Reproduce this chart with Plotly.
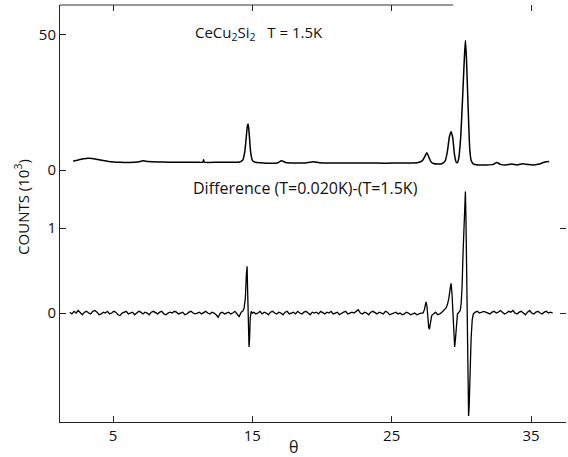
import numpy as np
import plotly.graph_objects as go

# ---------------- data (units: 10^3 counts) ----------------
# Upper panel: CeCu2Si2 at T = 1.5 K
theta_upper = [2.13, 2.5, 2.9, 3.2, 3.5, 3.9, 4.3, 4.8, 5.5, 6.2, 6.8, 7.15, 7.5, 8.2, 9.0, 10.0,
               11.0, 11.45, 11.5, 11.55, 12.5, 13.5, 14.1, 14.3, 14.45, 14.55, 14.65, 14.7, 14.78,
               14.88, 15.0, 15.2, 15.6, 16.2, 16.8, 17.1, 17.4, 18.0, 18.7, 19.4, 19.8, 20.5, 21.5,
               22.5, 23.5, 24.5, 25.5, 26.3, 26.9, 27.2, 27.4, 27.52, 27.65, 27.8, 28.0, 28.3, 28.6,
               28.85, 29.0, 29.15, 29.26, 29.38, 29.5, 29.62, 29.71, 29.8, 29.95, 30.1, 30.22, 30.29,
               30.36, 30.48, 30.6, 30.7, 30.85, 31.2, 31.8, 32.3, 32.55, 32.8, 33.2, 33.6, 34.0, 34.4,
               34.8, 35.2, 35.6, 36.0, 36.3]
counts_upper = [3.3, 3.7, 4.2, 4.4, 4.3, 3.9, 3.5, 3.1, 2.9, 2.8, 3.0, 3.4, 3.2, 3.0, 2.9, 2.9,
                2.9, 2.9, 3.8, 2.9, 2.9, 2.9, 3.0, 3.6, 6.5, 11.5, 16.5, 17.0, 13.0,
                6.5, 3.6, 2.9, 2.7, 2.5, 2.6, 3.4, 2.8, 2.6, 2.6, 3.1, 2.7, 2.6, 2.6,
                2.6, 2.6, 2.5, 2.6, 2.6, 2.8, 3.5, 5.2, 6.4, 5.0, 3.2, 2.4, 2.2, 2.3,
                3.5, 7.0, 12.5, 14.2, 12.0, 6.0, 3.0, 2.7, 4.0, 12.0, 28.0, 42.0, 48.0,
                42.0, 24.0, 8.0, 3.6, 2.3, 1.9, 1.9, 2.1, 2.8, 2.1, 1.9, 2.2, 1.9, 2.3,
                2.0, 1.9, 2.2, 3.0, 3.2]

# Lower panel: difference (T=0.020K)-(T=1.5K)
SCAN_STEP = 0.15
seg_a_start = 1.9
seg_a = [0.01, -0.01, 0.02, 0.00, 0.03, 0.01, -0.02, 0.01, 0.02, 0.00,
         -0.01, 0.02, 0.03, 0.01, -0.02, -0.01, 0.01, 0.00, 0.02, -0.01,
         0.00, 0.02, 0.01, -0.02, -0.03, 0.00, 0.01, 0.02, -0.01, 0.00,
         0.01, -0.02, 0.00, 0.02, 0.01, -0.01, 0.01, 0.00, -0.02, 0.01,
         0.02, 0.00, -0.01, 0.01, 0.02, -0.01, -0.02, 0.00, 0.01, 0.00,
         0.02, 0.01, -0.01, 0.00, 0.01, -0.02, -0.01, 0.01, 0.02, 0.00,
         -0.01, 0.00, 0.01, -0.01, 0.01, 0.02, 0.00, -0.01, 0.01, 0.00,
         -0.02, -0.05, 0.00, 0.01, -0.01, 0.00, 0.01, -0.01, 0.00, 0.02,
         -0.01, -0.04, 0.01]
peak1_theta = [14.3, 14.4, 14.5, 14.57, 14.62, 14.67, 14.72, 14.76, 14.8, 14.85, 14.92, 15.0]
peak1_diff = [0.02, 0.05, 0.18, 0.45, 0.55, 0.20, -0.25, -0.40, -0.30, -0.05, 0.02, 0.00]
seg_b_start = 15.1
seg_b = [0.01, -0.01, 0.00, 0.02, -0.01, 0.01, 0.00, -0.02, 0.01, 0.02,
         0.00, -0.01, 0.01, 0.00, -0.02, 0.01, 0.02, -0.01, 0.00, 0.01,
         -0.01, 0.02, 0.00, -0.01, 0.01, 0.02, 0.00, -0.02, 0.01, 0.00,
         0.01, -0.01, 0.02, 0.00, -0.01, 0.01, 0.00, 0.02, -0.01, 0.00,
         0.01, -0.02, 0.00, 0.01, 0.02, -0.01, 0.00, 0.01, 0.00, 0.02,
         0.04, 0.00, -0.01, 0.01, 0.00, -0.02, 0.01, 0.02, 0.00, -0.01,
         0.01, 0.00, -0.01, 0.02, 0.01, -0.02, -0.01, 0.00, 0.01, -0.01,
         0.00, -0.02, -0.01, 0.01, 0.00, -0.02, -0.01, 0.00, -0.02, -0.01,
         0.00]
peak2_theta = [27.25, 27.35, 27.42, 27.47, 27.53, 27.6, 27.66, 27.71, 27.78, 27.87, 28.0, 28.15,
               28.3, 28.45, 28.6, 28.75, 28.9, 29.0, 29.1, 29.18, 29.26, 29.33, 29.4, 29.46, 29.52,
               29.58, 29.65, 29.72, 29.78, 29.85, 29.92, 29.98, 30.05, 30.12, 30.18, 30.24, 30.29,
               30.33, 30.38, 30.43, 30.48, 30.52, 30.56, 30.62, 30.7, 30.78, 30.86]
peak2_diff = [0.00, 0.04, 0.10, 0.13, 0.08, -0.08, -0.17, -0.19, -0.10, -0.03, -0.01, 0.01,
              -0.02, -0.01, 0.01, 0.03, 0.06, 0.10, 0.17, 0.27, 0.35, 0.22, -0.05, -0.30, -0.40,
              -0.30, -0.10, -0.01, 0.00, 0.02, 0.03, 0.10, 0.30, 0.70, 1.05, 1.35, 1.43,
              1.10, 0.40, -0.40, -1.00, -1.21, -1.10, -0.70, -0.30, -0.08, -0.01]
seg_c_start = 31.0
seg_c = [0.01, 0.02, 0.00, 0.01, 0.02, 0.01, 0.00, -0.01, 0.01, 0.02,
         0.00, 0.01, 0.03, 0.01, -0.01, 0.00, 0.02, 0.01, 0.03, 0.00,
         -0.01, 0.01, 0.02, 0.00, -0.02, 0.01, 0.03, 0.00, -0.01, 0.01,
         0.02, 0.00, -0.01, 0.01, 0.02, 0.00, 0.01, 0.00]

x_ticks = [5, 15, 25, 35]
upper_ticks = [0, 50]
lower_ticks = [0, 1]


def scan(start, values):
    return list(np.round(start + SCAN_STEP * np.arange(len(values)), 3))


theta_lower = (scan(seg_a_start, seg_a) + peak1_theta + scan(seg_b_start, seg_b)
               + peak2_theta + scan(seg_c_start, seg_c))
diff_lower = seg_a + peak1_diff + seg_b + peak2_diff + seg_c

# ---------------- figure ----------------
FONT = "Open Sans"
fig = go.Figure()
fig.add_trace(go.Scatter(x=theta_upper, y=counts_upper, mode="lines", xaxis="x2", yaxis="y2",
                         line=dict(color="black", width=1.5, shape="spline", smoothing=0.5),
                         hoverinfo="skip"))
fig.add_trace(go.Scatter(x=theta_lower, y=diff_lower, mode="lines", xaxis="x", yaxis="y",
                         line=dict(color="black", width=1.3), hoverinfo="skip"))

xr = [1.195, 37.51]
split = 0.5803
axis_common = dict(showgrid=False, zeroline=False, ticks="inside", ticklen=6, tickwidth=1,
                   tickcolor="#222", linecolor="#222", linewidth=1,
                   tickfont=dict(family=FONT, size=15, color="#111"))

fig.update_layout(
    width=568, height=457,
    margin=dict(l=60, r=2, t=5, b=35),
    paper_bgcolor="white", plot_bgcolor="white",
    showlegend=False,
    xaxis=dict(range=xr, anchor="y", tickvals=x_ticks, showline=True, **axis_common),
    xaxis2=dict(range=xr, anchor="y2", matches="x", side="top", tickvals=x_ticks,
                showticklabels=False, showline=False, **axis_common),
    yaxis=dict(domain=[0, split], range=[-1.282, 1.565], anchor="x", tickvals=lower_ticks,
               showline=True, **axis_common),
    yaxis2=dict(domain=[split, 1], range=[-3.70, 61.1], anchor="x2", tickvals=upper_ticks,
                showline=True, **axis_common),
    yaxis3=dict(overlaying="y", side="right", range=[-1.282, 1.565], tickvals=lower_ticks,
                showticklabels=False, showline=False, anchor="x", **axis_common),
)
fig.add_trace(go.Scatter(x=[None], y=[None], yaxis="y3", xaxis="x", showlegend=False,
                         hoverinfo="skip"))

# top frame line (fades out towards the right in the original)
fig.add_shape(type="line", xref="paper", yref="paper", x0=0, x1=0.777, y0=1, y1=1,
              line=dict(color="#333", width=1))

fig.add_annotation(text="CeCu<sub>2</sub>Si<sub>2</sub>   T = 1.5K", xref="paper", yref="paper",
                   x=0.263, y=0.933, xanchor="left", yanchor="middle", showarrow=False,
                   font=dict(family=FONT, size=15, color="#111"))
fig.add_annotation(text="Difference (T=0.020K)-(T=1.5K)", xref="paper", yref="paper",
                   x=0.259, y=0.561, xanchor="left", yanchor="middle", showarrow=False,
                   font=dict(family=FONT, size=16, color="#111"))
fig.add_annotation(text="θ", xref="paper", yref="paper", x=0.4605, y=-0.06,
                   xanchor="center", yanchor="middle", showarrow=False,
                   font=dict(family=FONT, size=16, color="#111"))
fig.add_annotation(text="COUNTS (10<sup>3</sup>)", xref="paper", yref="paper", x=-0.075, y=0.516,
                   xanchor="center", yanchor="middle", textangle=-90, showarrow=False,
                   font=dict(family=FONT, size=15, color="#111"))

fig.write_html("out.html", config={"displayModeBar": False},
               post_script="document.body.style.margin='0';")
